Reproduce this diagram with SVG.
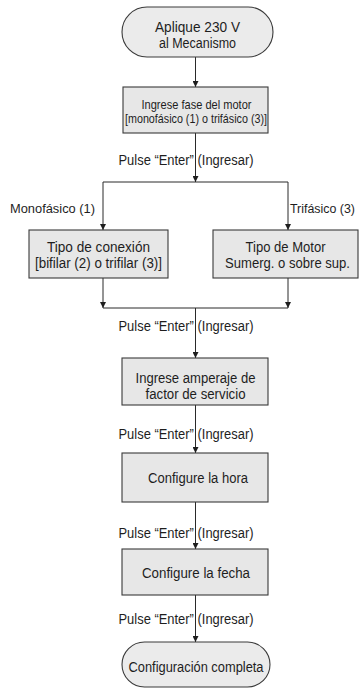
<svg xmlns="http://www.w3.org/2000/svg" width="359" height="688" viewBox="0 0 359 688">
<style>
  .bg{fill:#ffffff}
  .box{fill:#e7e7e7;stroke:#3a3a3a;stroke-width:1.1}
  .term{fill:#ebebeb;stroke:#3a3a3a;stroke-width:1.1}
  .ln{fill:none;stroke:#2a2a2a;stroke-width:1}
  text{font-family:"Liberation Sans",Arial,sans-serif;fill:#1e1e1e;font-size:14px}
  .c{text-anchor:middle}
  .s13{font-size:13px}
  .br{font-size:12.5px}
</style>
<defs>
  <marker id="arr" viewBox="0 0 10 10" refX="10" refY="5" markerWidth="7" markerHeight="6" markerUnits="userSpaceOnUse" orient="auto">
    <path d="M0,0 L10,5 L0,10 z" fill="#1e1e1e"/>
  </marker>
</defs>
<rect class="bg" x="0" y="0" width="359" height="688"/>

<g id="connectors">
  <line class="ln" x1="195.5" y1="57" x2="195.5" y2="87" marker-end="url(#arr)"/>
  <line class="ln" x1="195.5" y1="133" x2="195.5" y2="182" marker-end="url(#arr)"/>
  <line class="ln" x1="103" y1="182" x2="288" y2="182"/>
  <line class="ln" x1="103" y1="182" x2="103" y2="230" marker-end="url(#arr)"/>
  <line class="ln" x1="288" y1="182" x2="288" y2="230" marker-end="url(#arr)"/>
  <line class="ln" x1="103" y1="278" x2="103" y2="308" marker-end="url(#arr)"/>
  <line class="ln" x1="288" y1="278" x2="288" y2="308" marker-end="url(#arr)"/>
  <line class="ln" x1="103" y1="308" x2="288" y2="308"/>
  <line class="ln" x1="195.5" y1="308" x2="195.5" y2="358" marker-end="url(#arr)"/>
  <line class="ln" x1="195.5" y1="405" x2="195.5" y2="453" marker-end="url(#arr)"/>
  <line class="ln" x1="195.5" y1="502" x2="195.5" y2="549" marker-end="url(#arr)"/>
  <line class="ln" x1="195.5" y1="595" x2="195.5" y2="642" marker-end="url(#arr)"/>
  <text x="118.5" y="165" textLength="135" lengthAdjust="spacingAndGlyphs">Pulse “Enter” (Ingresar)</text>
  <text class="br" x="10" y="213" textLength="85" lengthAdjust="spacingAndGlyphs">Monofásico (1)</text>
  <text class="br" x="290" y="213" textLength="65" lengthAdjust="spacingAndGlyphs">Trifásico (3)</text>
  <text x="118.5" y="330.5" textLength="135" lengthAdjust="spacingAndGlyphs">Pulse “Enter” (Ingresar)</text>
  <text x="118.5" y="438.5" textLength="135" lengthAdjust="spacingAndGlyphs">Pulse “Enter” (Ingresar)</text>
  <text x="118.5" y="537.5" textLength="135" lengthAdjust="spacingAndGlyphs">Pulse “Enter” (Ingresar)</text>
  <text x="118.5" y="623.5" textLength="135" lengthAdjust="spacingAndGlyphs">Pulse “Enter” (Ingresar)</text>
</g>

<g id="start">
  <rect class="term" x="122" y="7" width="151" height="50" rx="25" ry="25"/>
  <text class="c" x="197.5" y="32" textLength="85" lengthAdjust="spacingAndGlyphs">Aplique 230 V</text>
  <text class="c" x="197.5" y="48" textLength="77" lengthAdjust="spacingAndGlyphs">al Mecanismo</text>
</g>

<g id="fase">
  <rect class="box" x="123" y="87" width="145" height="46"/>
  <text class="c s13" x="196.5" y="108.5" textLength="110" lengthAdjust="spacingAndGlyphs">Ingrese fase del motor</text>
  <text class="c s13" x="196" y="123" textLength="142" lengthAdjust="spacingAndGlyphs">[monofásico (1) o trifásico (3)]</text>
</g>

<g id="conexion">
  <rect class="box" x="29" y="230" width="139" height="48"/>
  <text class="c" x="98.5" y="252" textLength="103" lengthAdjust="spacingAndGlyphs">Tipo de conexión</text>
  <text class="c" x="98.5" y="267.5" textLength="127" lengthAdjust="spacingAndGlyphs">[bifilar (2) o trifilar (3)]</text>
</g>

<g id="motor">
  <rect class="box" x="213" y="230" width="145" height="48"/>
  <text class="c" x="285.5" y="252" textLength="80" lengthAdjust="spacingAndGlyphs">Tipo de Motor</text>
  <text class="c" x="287.5" y="267.5" textLength="125" lengthAdjust="spacingAndGlyphs">Sumerg. o sobre sup.</text>
</g>

<g id="amperaje">
  <rect class="box" x="122" y="358" width="146" height="47"/>
  <text class="c" x="195.5" y="383" textLength="120" lengthAdjust="spacingAndGlyphs">Ingrese amperaje de</text>
  <text class="c" x="195.5" y="398.5" textLength="100" lengthAdjust="spacingAndGlyphs">factor de servicio</text>
</g>

<g id="hora">
  <rect class="box" x="122" y="453" width="146" height="49"/>
  <text class="c" x="198" y="483" textLength="100" lengthAdjust="spacingAndGlyphs">Configure la hora</text>
</g>

<g id="fecha">
  <rect class="box" x="122" y="549" width="146" height="46"/>
  <text class="c" x="196" y="577.5" textLength="108" lengthAdjust="spacingAndGlyphs">Configure la fecha</text>
</g>

<g id="fin">
  <rect class="term" x="122" y="642" width="148" height="45" rx="22.5" ry="22.5"/>
  <text class="c" x="196" y="672" textLength="135" lengthAdjust="spacingAndGlyphs">Configuración completa</text>
</g>
</svg>
